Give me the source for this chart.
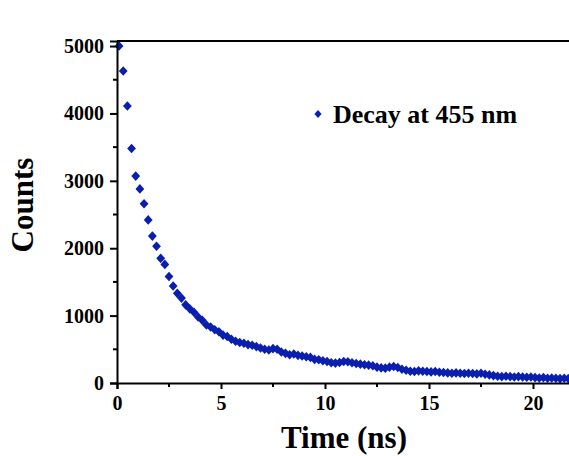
<!DOCTYPE html>
<html>
<head>
<meta charset="utf-8">
<script src="https://cdn.jsdelivr.net/npm/d3@7"></script>
<style>
  body { margin: 0; background: #fff; }
  svg { display: block; }
</style>
</head>
<body>
<div id="chart"></div>
<script>
// decay data (time in ns, counts)
const times = [
  0.1, 0.3, 0.5, 0.7, 0.9, 1.1, 1.3, 1.5, 1.7, 1.9,
  2.1, 2.3, 2.5, 2.7, 2.9, 3.1, 3.3, 3.5, 3.7, 3.9,
  4.1, 4.3, 4.5, 4.7, 4.9, 5.1, 5.3, 5.5, 5.7, 5.9,
  6.1, 6.3, 6.5, 6.7, 6.9, 7.1, 7.3, 7.5, 7.7, 7.9,
  8.1, 8.3, 8.5, 8.7, 8.9, 9.1, 9.3, 9.5, 9.7, 9.9,
  10.1, 10.3, 10.5, 10.7, 10.9, 11.1, 11.3, 11.5, 11.7, 11.9,
  12.1, 12.3, 12.5, 12.7, 12.9, 13.1, 13.3, 13.5, 13.7, 13.9,
  14.1, 14.3, 14.5, 14.7, 14.9, 15.1, 15.3, 15.5, 15.7, 15.9,
  16.1, 16.3, 16.5, 16.7, 16.9, 17.1, 17.3, 17.5, 17.7, 17.9,
  18.1, 18.3, 18.5, 18.7, 18.9, 19.1, 19.3, 19.5, 19.7, 19.9,
  20.1, 20.3, 20.5, 20.7, 20.9, 21.1, 21.3, 21.5, 21.7, 21.9,
];
const counts = [
  5000, 4630, 4110, 3480, 3070, 2880, 2660, 2420, 2180, 2030,
  1850, 1760, 1580, 1440, 1330, 1260, 1160, 1100, 1050, 980,
  930, 860, 830, 790, 760, 710, 690, 650, 620, 600,
  590, 570, 560, 540, 520, 500, 490, 510, 500, 460,
  440, 420, 430, 410, 400, 390, 380, 350, 345, 330,
  320, 300, 295, 305, 320, 315, 300, 290, 280, 270,
  265, 255, 235, 225, 220, 235, 245, 230, 205, 190,
  175, 170, 180, 175, 170, 165, 170, 160, 155, 150,
  145, 150, 145, 140, 145, 140, 135, 145, 130, 120,
  110, 100, 95, 100, 95, 90, 95, 90, 85, 90,
  80, 75, 80, 70, 75, 70, 65, 70, 65, 60,
];
const xTicks = [0, 5, 10, 15, 20];
const xMinor = [2.5, 7.5, 12.5, 17.5];
const yTicks = [0, 1000, 2000, 3000, 4000, 5000];
const yMinor = [500, 1500, 2500, 3500, 4500];
const legendLabel = 'Decay at 455 nm';

const data = times.map((t, i) => ({ t, c: counts[i] }));

const size = { width: 569, height: 456 };
const margin = { top: 41, left: 117, bottom: 73 };
const color = '#0a1fae';
const font = '"Liberation Serif", "Times New Roman", serif';

const svg = d3
  .select('#chart')
  .append('svg')
  .attr('width', size.width)
  .attr('height', size.height);

const x = d3
  .scaleLinear()
  .domain([0, 22])
  .range([margin.left, margin.left + 22 * 20.8]);

const y = d3
  .scaleLinear()
  .domain([0, 5075])
  .range([size.height - margin.bottom, margin.top]);

const diamond = (w, h) => `M0,${-h} L${w},0 L0,${h} L${-w},0 Z`;

// points
svg
  .append('g')
  .selectAll('path')
  .data(data)
  .enter()
  .append('path')
  .attr('d', diamond(4.4, 4.8))
  .attr('transform', (d) => `translate(${x(d.t)},${y(d.c)})`)
  .attr('fill', color);

// frame: top line
svg
  .append('line')
  .attr('x1', x(0))
  .attr('x2', x(22))
  .attr('y1', y(5075))
  .attr('y2', y(5075))
  .attr('stroke', 'black')
  .attr('stroke-width', 2);

// y axis
const yAxis = svg
  .append('g')
  .attr('transform', `translate(${x(0)},0)`)
  .call(
    d3
      .axisLeft(y)
      .tickValues(yTicks)
      .tickFormat(d3.format('d'))
      .tickSize(7)
      .tickPadding(6),
  );
yAxis.select('.domain').attr('stroke-width', 2);
yAxis.selectAll('.tick line').attr('stroke-width', 2);
yAxis
  .selectAll('.tick text')
  .attr('font-family', font)
  .attr('font-weight', 'bold')
  .attr('font-size', 20)
  .attr('fill', 'black');
yMinor.forEach((v) => {
  yAxis
    .append('line')
    .attr('x1', -4)
    .attr('x2', 0)
    .attr('y1', y(v))
    .attr('y2', y(v))
    .attr('stroke', 'black')
    .attr('stroke-width', 2);
});

// x axis
const xAxis = svg
  .append('g')
  .attr('transform', `translate(0,${y(0)})`)
  .call(
    d3
      .axisBottom(x)
      .tickValues(xTicks)
      .tickFormat(d3.format('d'))
      .tickSize(6)
      .tickPadding(7),
  );
xAxis.select('.domain').attr('stroke-width', 2);
xAxis.selectAll('.tick line').attr('stroke-width', 2);
xAxis
  .selectAll('.tick text')
  .attr('font-family', font)
  .attr('font-weight', 'bold')
  .attr('font-size', 20)
  .attr('fill', 'black');
xMinor.forEach((v) => {
  xAxis
    .append('line')
    .attr('x1', x(v))
    .attr('x2', x(v))
    .attr('y1', 0)
    .attr('y2', 4)
    .attr('stroke', 'black')
    .attr('stroke-width', 2);
});

// axis titles
svg
  .append('text')
  .attr('transform', `translate(33,205) rotate(-90)`)
  .attr('text-anchor', 'middle')
  .attr('font-family', font)
  .attr('font-weight', 'bold')
  .attr('font-size', 31)
  .text('Counts');

svg
  .append('text')
  .attr('x', 344)
  .attr('y', 448)
  .attr('text-anchor', 'middle')
  .attr('font-family', font)
  .attr('font-weight', 'bold')
  .attr('font-size', 31)
  .text('Time (ns)');

// legend
svg
  .append('path')
  .attr('d', diamond(3.6, 4))
  .attr('transform', 'translate(318,114)')
  .attr('fill', color);

svg
  .append('text')
  .attr('x', 333)
  .attr('y', 123)
  .attr('font-family', font)
  .attr('font-weight', 'bold')
  .attr('font-size', 26)
  .text(legendLabel);
</script>
</body>
</html>
